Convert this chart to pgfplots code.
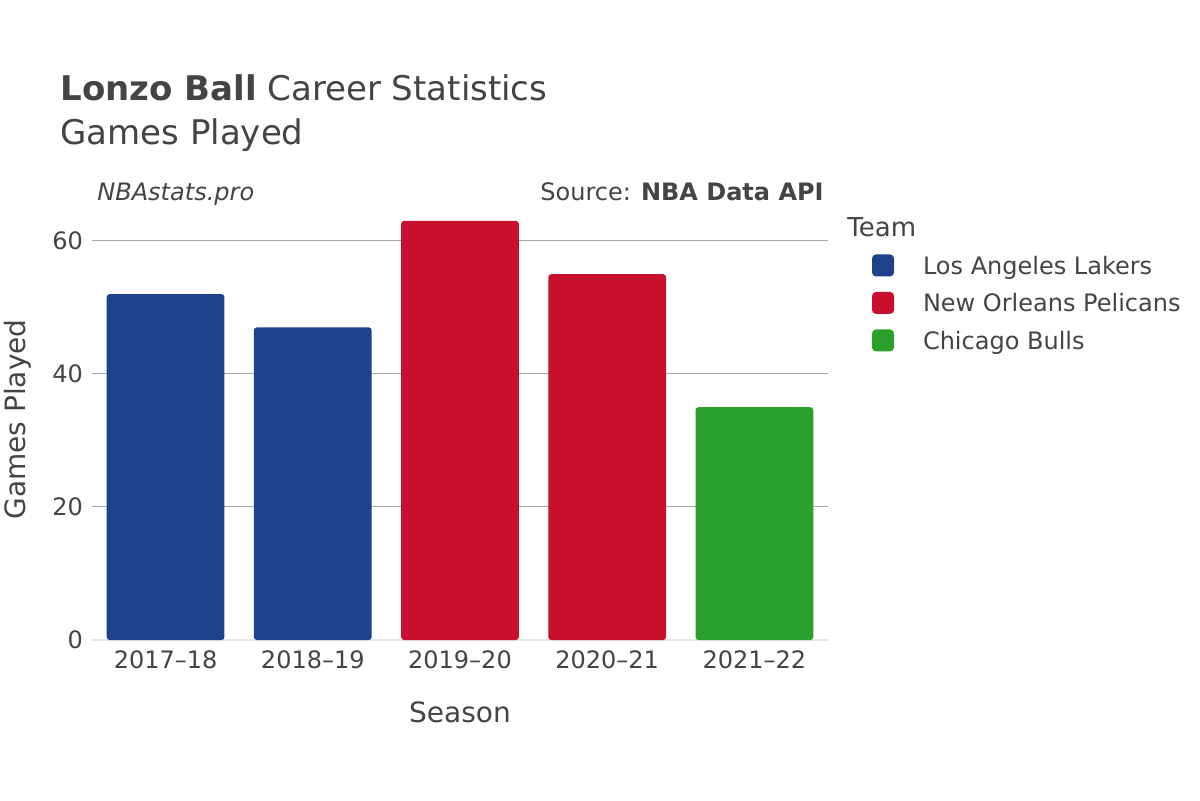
\documentclass[border=0pt]{standalone}
\usepackage{pgfplots}
\pgfplotsset{compat=1.18}
\usepackage{fontspec}
\setmainfont{DejaVu Sans}
\definecolor{txt}{RGB}{68,68,68}
\definecolor{lal}{RGB}{29,66,138}
\definecolor{nop}{RGB}{200,16,46}
\definecolor{chi}{RGB}{44,160,44}
\definecolor{gridc}{RGB}{165,165,165}
\definecolor{zeroc}{RGB}{232,232,232}
\begin{document}
\begin{tikzpicture}[x=1pt,y=1pt]
\path[use as bounding box, fill=white] (0,0) rectangle (600,400);
\begin{axis}[
  at={(46pt,80pt)}, anchor=south west, scale only axis,
  width=368pt, height=220.5pt,
  xmin=-0.5, xmax=4.5, ymin=0, ymax=66.3,
  ybar, bar width=0.8, bar shift=0pt,
  xtick={0,1,2,3,4},
  xticklabels={2017–18,2018–19,2019–20,2020–21,2021–22},
  ytick={20,40,60},
  extra y ticks={0},
  extra y tick style={grid style={draw=zeroc, line width=1.3pt}},
  ymajorgrids, grid style={draw=gridc, line width=0.5pt},
  major tick length=0pt,
  axis line style={draw=none},
  /pgf/number format/assume math mode=true,
  tick label style={font=\fontsize{12}{14}\selectfont, text=txt},
  xticklabel style={yshift=-2pt},
  yticklabel style={xshift=-1pt},
  xlabel={Season}, ylabel={Games Played},
  label style={font=\fontsize{14}{16}\selectfont, text=txt},
  xlabel style={at={(axis description cs:0.5,-0.163)}, anchor=center},
  ylabel style={at={(axis description cs:-0.1005,0.5)}, anchor=center},
  legend style={at={(axis description cs:1.0598,0.8743)}, anchor=north west,
    draw=none, fill=none, inner sep=0pt, outer sep=0pt,
    font=\fontsize{12}{14}\selectfont, text=txt,
    row sep=6.3pt, column sep=14.5pt,
    nodes={inner sep=0pt, text height=9pt, text depth=2.5pt}},
  legend cell align=left,
  legend image code/.code={\fill[#1, rounded corners=2pt] (0pt,-4.3pt) rectangle (11pt,6.7pt);},
]
\addplot[fill=lal, draw=none, rounded corners=1.5pt] coordinates {(0,52) (1,47)};
\addlegendentry{Los Angeles Lakers}
\addplot[fill=nop, draw=none, rounded corners=1.5pt] coordinates {(2,63) (3,55)};
\addlegendentry{New Orleans Pelicans}
\addplot[fill=chi, draw=none, rounded corners=1.5pt] coordinates {(4,35)};
\addlegendentry{Chicago Bulls}
\end{axis}
\node[anchor=base west, text=txt, inner sep=0pt, font=\fontsize{17}{20}\selectfont] at (30,349.5) {\textbf{Lonzo Ball} Career Statistics};
\node[anchor=base west, text=txt, inner sep=0pt, font=\fontsize{17}{20}\selectfont] at (30,327.75) {Games Played};
\node[anchor=base west, text=txt, inner sep=0pt, font=\fontsize{12}{14}\selectfont\itshape] at (48.5,299.6) {NBAstats.pro};
\node[anchor=base east, text=txt, inner sep=0pt, font=\fontsize{12}{14}\selectfont] at (412,299.6) {Source: \textbf{NBA Data API}};
\node[anchor=base west, text=txt, inner sep=0pt, font=\fontsize{13}{15}\selectfont] at (423.5,281.75) {Team};
\end{tikzpicture}
\end{document}
